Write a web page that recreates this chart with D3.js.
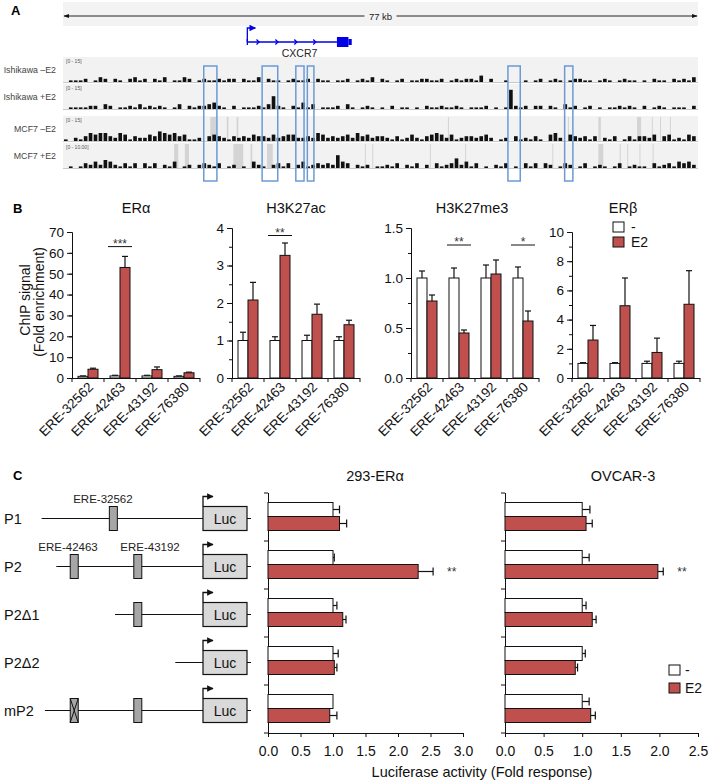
<!DOCTYPE html>
<html><head><meta charset="utf-8">
<script src="https://cdn.jsdelivr.net/npm/d3@7/dist/d3.min.js"></script>
<style>
html,body{margin:0;padding:0;background:#fff;}
svg{display:block;font-family:"Liberation Sans",Arial,Helvetica,sans-serif;}
</style></head><body>
<svg id="fig" width="709" height="782"></svg>
<script>
// ================= DATA =================
// Panel A – genome browser
const genomeSpanKb = 77;
const trackNames = ["Ishikawa \u2013E2", "Ishikawa +E2", "MCF7 \u2013E2", "MCF7 +E2"];
const trackRanges = ["[0 - 15]", "[0 - 15]", "[0 - 15]", "[0 - 10.00]"];
// signal per bin (base-36 digit, units of the track range), 128 bins over 77 kb
const ishikawaMinusE2 = "01112013"+"20210231"+"20213011"+"32012112"+"12202113"+"02110121"+"12021101"+"12012130"+"21012011"+"22112012"+"12214020"+"01000101"+"20121012"+"21101210"+"12110102"+"11021213";
const ishikawaPlusE2  = "01111220"+"32011213"+"12121013"+"02122342"+"10201112"+"13821021"+"41301112"+"03101210"+"10201101"+"02112112"+"10111201"+"01c21202"+"20210312"+"01201011"+"21210201"+"21011102";
const mcf7MinusE2     = "10213545"+"53254132"+"24365453"+"41120343"+"21323243"+"32423442"+"23254232"+"34253423"+"32131242"+"13454241"+"23323420"+"12031213"+"10452043"+"23130213"+"01313324"+"03412143";
const mcf7PlusE2      = "01013242"+"54213130"+"31302140"+"12023213"+"01201042"+"10231302"+"41232328"+"43021201"+"12130213"+"02031236"+"24130102"+"13010313"+"03201320"+"13012101"+"30121103"+"12314342";
// regions without data (kb)
const mcf7MinusGaps = [[17.8,18.5],[19.8,20.0],[21.0,21.2],[46.7,46.8],[61.3,61.4],[65.0,65.3],[69.7,70.2],[71.5,71.6],[72.5,72.6],[73.7,73.8]];
const mcf7PlusGaps  = [[13.4,13.9],[14.7,15.2],[20.6,21.8],[22.7,22.9],[24.7,25.4],[36.6,36.7],[37.5,37.6],[44.5,44.6],[48.8,48.9],[59.4,59.5],[65.0,65.6],[67.6,67.7],[68.5,68.6],[70.0,70.1],[71.6,71.7]];
// highlighted ERE regions (kb)
const ereRegionsKb = [[17.0,18.6],[24.1,26.0],[28.2,29.2],[29.6,30.4],[54.0,55.5],[60.9,61.9]];
// CXCR7 gene model (kb)
const geneName = "CXCR7";
const geneStartKb = 22.3, geneCdsEndKb = 33.2, geneThickEndKb = 34.6, geneEndKb = 35.0;
const geneIntronMarksKb = [23.6, 25.9, 28.2, 30.5];

// Panel B – ChIP
const chipSites = ["ERE-32562", "ERE-42463", "ERE-43192", "ERE-76380"];
const chipTargets = ["ER\u03b1", "H3K27ac", "H3K27me3", "ER\u03b2"];
const chipMax = [70, 4, 1.5, 10];
const chipMajorStep = [10, 1, 0.5, 2];
const chipMinorStep = [10, 0.5, 0.25, 1];
const chipCtrl = [[0.8, 1.0, 1.0, 0.8], [1.0, 1.0, 1.0, 1.0], [1.0, 1.0, 1.0, 1.0], [1.0, 1.0, 1.0, 1.0]];
const chipCtrlErr = [[0.2, 0.3, 0.3, 0.2], [0.22, 0.1, 0.14, 0.1], [0.07, 0.1, 0.13, 0.11], [0.05, 0.05, 0.15, 0.15]];
const chipE2 = [[4.2, 53, 4.0, 2.5], [2.08, 3.27, 1.7, 1.42], [0.77, 0.45, 1.04, 0.57], [2.6, 4.95, 1.75, 5.05]];
const chipE2Err = [[0.5, 5.3, 1.3, 0.3], [0.47, 0.33, 0.27, 0.12], [0.06, 0.03, 0.14, 0.1], [1.0, 1.9, 0.98, 2.3]];
// significance: [chart, site index, label, level]
const chipSig = [[0, 1, "***", 63], [1, 1, "**", 3.8], [2, 1, "**", 1.33], [2, 3, "*", 1.33]];

// Panel C – luciferase
const constructs = ["P1", "P2", "P2\u03941", "P2\u03942", "mP2"];
const constructStart = [1, 10, 46, 83, 3];           // schematic units (TSS = 100)
const constructEREs = [[45], [21, 60], [60], [], [21, 60]];
const constructMutated = [[], [], [], [], [21]];
const ereLabels = [["ERE-32562", 0, 38.6], ["ERE-42463", 1, 17.2], ["ERE-43192", 1, 67.5]];
const lucCells = ["293-ER\u03b1", "OVCAR-3"];
const lucMax = [3.0, 2.5];
const lucCtrl = [[1.0, 1.0, 1.0, 1.0, 1.0], [1.0, 1.0, 1.0, 1.0, 1.0]];
const lucCtrlErr = [[0.1, 0.02, 0.06, 0.08, 0.0], [0.1, 0.09, 0.05, 0.04, 0.09]];
const lucE2 = [[1.1, 2.31, 1.15, 1.02, 0.95], [1.05, 1.98, 1.13, 0.91, 1.11]];
const lucE2Err = [[0.11, 0.23, 0.05, 0.04, 0.11], [0.08, 0.07, 0.05, 0.03, 0.06]];
const lucSig = [[0, 1, "**"], [1, 1, "**"]];
const legendLabels = ["-", "E2"];

// ================= DRAWING =================
const RED = "#c0504d";
const FONT = "Liberation Sans, Arial, sans-serif";
const svg = d3.select("#fig");
const defs = svg.append("defs");
defs.append("marker").attr("id", "arrK").attr("viewBox", "0 0 10 10").attr("refX", 9).attr("refY", 5)
  .attr("markerWidth", 6).attr("markerHeight", 6).attr("orient", "auto-start-reverse")
  .append("path").attr("d", "M0,1.5 L10,5 L0,8.5 Z").attr("fill", "#111");
defs.append("marker").attr("id", "arrB").attr("viewBox", "0 0 10 10").attr("refX", 9).attr("refY", 5)
  .attr("markerWidth", 5).attr("markerHeight", 5).attr("orient", "auto")
  .append("path").attr("d", "M0,0 L10,5 L0,10 Z").attr("fill", "#0000e6");
defs.append("marker").attr("id", "arrC").attr("viewBox", "0 0 10 10").attr("refX", 9).attr("refY", 5)
  .attr("markerWidth", 5).attr("markerHeight", 5).attr("orient", "auto")
  .append("path").attr("d", "M0,0 L10,5 L0,10 Z").attr("fill", "#111");

function letter(t, x, y) {
  svg.append("text").attr("x", x).attr("y", y).attr("font-size", 13).attr("font-weight", "bold").text(t);
}

// ---------- Panel A ----------
letter("A", 11, 15);
const gx = d3.scaleLinear().domain([0, genomeSpanKb]).range([64, 697]);
const gA = svg.append("g");
gA.append("rect").attr("x", 63).attr("y", 2).attr("width", 635).attr("height", 24).attr("fill", "#f3f3f3");
gA.append("line").attr("x1", gx(0)).attr("x2", gx(genomeSpanKb)).attr("y1", 16).attr("y2", 16)
  .attr("stroke", "#222").attr("stroke-width", 1)
  .attr("marker-start", "url(#arrK)").attr("marker-end", "url(#arrK)");
gA.append("rect").attr("x", gx(genomeSpanKb / 2) - 16).attr("y", 10).attr("width", 32).attr("height", 12).attr("fill", "#f3f3f3");
gA.append("text").attr("x", gx(genomeSpanKb / 2)).attr("y", 19.5).attr("text-anchor", "middle")
  .attr("font-size", 9.5).attr("fill", "#222").text(genomeSpanKb + " kb");

// gene model
const gy = 42, blue = "#0000e6";
gA.append("path").attr("d", `M${gx(geneStartKb)},${gy} V${gy - 14} H${gx(geneStartKb) + 8}`)
  .attr("fill", "none").attr("stroke", blue).attr("stroke-width", 1.3).attr("marker-end", "url(#arrB)");
gA.append("line").attr("x1", gx(geneStartKb)).attr("x2", gx(geneCdsEndKb)).attr("y1", gy).attr("y2", gy)
  .attr("stroke", blue).attr("stroke-width", 1.3);
gA.append("line").attr("x1", gx(geneStartKb)).attr("x2", gx(geneStartKb)).attr("y1", gy - 3).attr("y2", gy + 3)
  .attr("stroke", blue).attr("stroke-width", 1.3);
geneIntronMarksKb.forEach(k => {
  gA.append("path").attr("d", `M${gx(k) - 1.5},${gy - 2.5} L${gx(k) + 1},${gy} L${gx(k) - 1.5},${gy + 2.5}`)
    .attr("fill", "none").attr("stroke", blue).attr("stroke-width", 1.3);
});
gA.append("rect").attr("x", gx(geneCdsEndKb)).attr("y", gy - 5).attr("width", gx(geneThickEndKb) - gx(geneCdsEndKb)).attr("height", 10).attr("fill", blue);
gA.append("rect").attr("x", gx(geneThickEndKb)).attr("y", gy - 3).attr("width", gx(geneEndKb) - gx(geneThickEndKb)).attr("height", 6).attr("fill", blue);
gA.append("text").attr("x", gx((geneStartKb + geneEndKb) / 2)).attr("y", 57).attr("text-anchor", "middle")
  .attr("font-size", 10.5).attr("fill", "#222").text(geneName);

// tracks
const trackData = [ishikawaMinusE2, ishikawaPlusE2, mcf7MinusE2, mcf7PlusE2];
const trackGaps = [[], [], mcf7MinusGaps, mcf7PlusGaps];
const trackTop = [57, 84, 116, 143];
const trackH = 26;
const hs = d3.scaleLinear().domain([0, 15]).range([0, 24]);
trackData.forEach((str, t) => {
  const g = gA.append("g");
  const top = trackTop[t], base = top + trackH - 1;
  g.append("rect").attr("x", 63).attr("y", top).attr("width", 635).attr("height", trackH).attr("fill", "#f2f2f2");
  trackGaps[t].forEach(([a, b]) => {
    g.append("rect").attr("x", gx(a)).attr("y", top + 1).attr("width", Math.max(1, gx(b) - gx(a))).attr("height", trackH - 2).attr("fill", "#d4d4d4");
  });
  g.append("line").attr("x1", 63).attr("x2", 698).attr("y1", base + 0.5).attr("y2", base + 0.5).attr("stroke", "#c8c8c8");
  const vals = str.split("").map(c => parseInt(c, 36));
  const bw = genomeSpanKb / vals.length;
  vals.forEach((d, i) => {
    if (d <= 0) return;
    g.append("rect").attr("x", gx(i * bw)).attr("width", Math.max(1, gx((i + 1) * bw) - gx(i * bw) - 1.3))
      .attr("y", base - hs(d)).attr("height", hs(d)).attr("fill", "#111");
  });
  g.append("text").attr("x", 66).attr("y", top + 6).attr("font-size", 5).attr("fill", "#555").text(trackRanges[t]);
  g.append("text").attr("x", 56).attr("y", top + 16).attr("text-anchor", "end").attr("font-size", 8.8)
    .attr("fill", "#444").text(trackNames[t]);
});
ereRegionsKb.forEach(([a, b]) => {
  gA.append("rect").attr("x", gx(a)).attr("y", 66).attr("width", gx(b) - gx(a)).attr("height", 115)
    .attr("fill", "none").attr("stroke", "#6a9bd6").attr("stroke-width", 1.5);
});

// ---------- Panel B ----------
letter("B", 13, 213);
const chipAxisX = [72, 232, 411, 572];
const chipTopY = [232, 228, 228, 232];
const chipTitleX = [136, 296, 472, 623];
const chipBase = 378, bandW = 32, barW = 10;
chipTargets.forEach((name, k) => {
  const g = svg.append("g");
  const x = d3.scaleBand().domain(chipSites).range([chipAxisX[k], chipAxisX[k] + 4 * bandW]);
  const y = d3.scaleLinear().domain([0, chipMax[k]]).range([chipBase, chipTopY[k]]);
  const major = d3.range(0, chipMax[k] + 1e-9, chipMajorStep[k]);
  const minor = d3.range(0, chipMax[k] + 1e-9, chipMinorStep[k]);
  const fmt = chipMax[k] === 1.5 ? d3.format(".1f") : d3.format("d");
  g.append("g").attr("transform", `translate(${chipAxisX[k]},0)`)
    .call(d3.axisLeft(y).tickValues(minor).tickSize(3).tickSizeOuter(0).tickFormat(""))
    .call(a => a.selectAll("path,line").attr("stroke", "#111"));
  g.append("g").attr("transform", `translate(${chipAxisX[k]},0)`)
    .call(d3.axisLeft(y).tickValues(major).tickSize(5).tickPadding(3).tickSizeOuter(0).tickFormat(fmt))
    .call(a => a.selectAll("path,line").attr("stroke", "#111"))
    .call(a => a.selectAll("text").attr("font-size", 13.5).attr("fill", "#111").attr("font-family", FONT));
  // x axis
  g.append("line").attr("x1", chipAxisX[k]).attr("x2", chipAxisX[k] + 4 * bandW).attr("y1", chipBase + 0.5).attr("y2", chipBase + 0.5).attr("stroke", "#111");
  d3.range(5).forEach(j => {
    const xx = chipAxisX[k] + j * bandW;
    g.append("line").attr("x1", xx).attr("x2", xx).attr("y1", chipBase).attr("y2", chipBase + 4).attr("stroke", "#111");
  });
  chipSites.forEach((s, i) => {
    const cx = x(s) + x.bandwidth() / 2;
    const vc = chipCtrl[k][i], ve = chipE2[k][i];
    [[vc, chipCtrlErr[k][i], cx - barW / 2], [ve, chipE2Err[k][i], cx + barW / 2]].forEach(([v, e, ex]) => {
      g.append("line").attr("x1", ex).attr("x2", ex).attr("y1", y(v)).attr("y2", y(v + e)).attr("stroke", "#111").attr("stroke-width", 1.2);
      g.append("line").attr("x1", ex - 3).attr("x2", ex + 3).attr("y1", y(v + e)).attr("y2", y(v + e)).attr("stroke", "#111").attr("stroke-width", 1.2);
    });
    g.append("rect").attr("x", cx - barW).attr("y", y(vc)).attr("width", barW).attr("height", chipBase - y(vc))
      .attr("fill", "#fff").attr("stroke", "#111").attr("stroke-width", 1);
    g.append("rect").attr("x", cx).attr("y", y(ve)).attr("width", barW).attr("height", chipBase - y(ve))
      .attr("fill", RED).attr("stroke", "#111").attr("stroke-width", 1);
    g.append("text").attr("transform", `translate(${cx + 6},${chipBase + 10}) rotate(-45)`)
      .attr("text-anchor", "end").attr("font-size", 13.5).attr("fill", "#111").text(s);
  });
  g.append("text").attr("x", chipTitleX[k]).attr("y", 213).attr("text-anchor", "middle").attr("font-size", 14.5).attr("fill", "#111").text(name);
  chipSig.filter(d => d[0] === k).forEach(([c, si, lab, lvl]) => {
    const cx = x(chipSites[si]) + x.bandwidth() / 2;
    g.append("line").attr("x1", cx - 12).attr("x2", cx + 12).attr("y1", y(lvl)).attr("y2", y(lvl)).attr("stroke", "#111");
    g.append("text").attr("x", cx).attr("y", y(lvl) + 1).attr("text-anchor", "middle").attr("font-size", 12).attr("fill", "#333").text(lab);
  });
});
svg.append("text").attr("transform", "translate(30,300) rotate(-90)").attr("text-anchor", "middle").attr("font-size", 14).attr("fill", "#111").text("ChIP signal");
svg.append("text").attr("transform", "translate(44,302) rotate(-90)").attr("text-anchor", "middle").attr("font-size", 14).attr("fill", "#111").text("(Fold enrichment)");
function legend(x0, y0, gap, tx) {
  legendLabels.forEach((l, i) => {
    svg.append("rect").attr("x", x0).attr("y", y0 + i * gap).attr("width", 11).attr("height", 10)
      .attr("fill", i ? RED : "#fff").attr("stroke", "#111");
    svg.append("text").attr("x", x0 + tx).attr("y", y0 + i * gap + 10).attr("font-size", 14).attr("fill", "#111").text(l);
  });
}
legend(613, 222, 15, 18);

// ---------- Panel C ----------
letter("C", 13, 480);
const cy = d3.scaleBand().domain(constructs).range([493, 733]);
const dsx = d3.scaleLinear().domain([0, 100]).range([40, 203]);
const gC = svg.append("g");
constructs.forEach((c, r) => {
  const yc = cy(c) + cy.bandwidth() / 2 + 1.5;
  gC.append("text").attr("x", 4).attr("y", yc + 5).attr("font-size", 14.5).attr("fill", "#111").text(c);
  gC.append("line").attr("x1", dsx(constructStart[r])).attr("x2", dsx(100) + 48).attr("y1", yc).attr("y2", yc).attr("stroke", "#111").attr("stroke-width", 1.2);
  constructEREs[r].forEach(p => {
    gC.append("rect").attr("x", dsx(p) - 4).attr("y", yc - 12).attr("width", 8).attr("height", 24).attr("fill", "#a6a6a6").attr("stroke", "#111");
    if (constructMutated[r].includes(p)) {
      gC.append("path").attr("d", `M${dsx(p) - 4},${yc - 12} L${dsx(p) + 4},${yc + 12} M${dsx(p) + 4},${yc - 12} L${dsx(p) - 4},${yc + 12}`).attr("stroke", "#111");
    }
  });
  gC.append("rect").attr("x", dsx(100)).attr("y", yc - 12).attr("width", 44).attr("height", 24).attr("fill", "#d9d9d9").attr("stroke", "#111").attr("stroke-width", 1.2);
  gC.append("text").attr("x", dsx(100) + 22).attr("y", yc + 5).attr("text-anchor", "middle").attr("font-size", 14).attr("fill", "#111").text("Luc");
  gC.append("path").attr("d", `M${dsx(100)},${yc - 12} V${yc - 22} H${dsx(100) + 10}`).attr("fill", "none").attr("stroke", "#111").attr("stroke-width", 1.3).attr("marker-end", "url(#arrC)");
});
ereLabels.forEach(([n, r, p]) => {
  const yc = cy(constructs[r]) + cy.bandwidth() / 2 + 1.5;
  gC.append("text").attr("x", dsx(p)).attr("y", yc - 16).attr("text-anchor", "middle").attr("font-size", 11.5).attr("fill", "#222").text(n);
});

const lucAxisX = [268, 505], lucAxisEnd = [463, 698], lucTitleX = [375, 623];
lucCells.forEach((cell, k) => {
  const g = svg.append("g");
  const x = d3.scaleLinear().domain([0, lucMax[k]]).range([lucAxisX[k], lucAxisEnd[k]]);
  g.append("g").attr("transform", "translate(0,733)")
    .call(d3.axisBottom(x).tickValues(d3.range(0, lucMax[k] + 1e-9, 0.5)).tickSize(4).tickPadding(9).tickSizeOuter(0).tickFormat(d3.format(".1f")))
    .call(a => a.selectAll("path,line").attr("stroke", "#111"))
    .call(a => a.selectAll("text").attr("font-size", 14).attr("fill", "#111").attr("font-family", FONT));
  g.append("line").attr("x1", lucAxisX[k] + 0.5).attr("x2", lucAxisX[k] + 0.5).attr("y1", 493).attr("y2", 733).attr("stroke", "#111");
  d3.range(6).forEach(j => {
    const yy = 493 + j * cy.bandwidth();
    g.append("line").attr("x1", lucAxisX[k] - 4).attr("x2", lucAxisX[k]).attr("y1", yy).attr("y2", yy).attr("stroke", "#111");
  });
  constructs.forEach((c, i) => {
    const b = cy(c);
    [[lucCtrl[k][i], lucCtrlErr[k][i], b + 9.5, "#fff"], [lucE2[k][i], lucE2Err[k][i], b + 23.5, RED]].forEach(([v, e, yy, fill]) => {
      if (e > 0) {
        g.append("line").attr("x1", x(v)).attr("x2", x(v + e)).attr("y1", yy + 7).attr("y2", yy + 7).attr("stroke", "#111").attr("stroke-width", 1.2);
        g.append("line").attr("x1", x(v + e)).attr("x2", x(v + e)).attr("y1", yy + 3).attr("y2", yy + 11).attr("stroke", "#111").attr("stroke-width", 1.2);
      }
      g.append("rect").attr("x", x(0)).attr("y", yy).attr("width", x(v) - x(0)).attr("height", 14).attr("fill", fill).attr("stroke", "#111");
    });
  });
  lucSig.filter(d => d[0] === k).forEach(([kk, i, lab]) => {
    const b = cy(constructs[i]);
    g.append("text").attr("x", x(lucE2[k][i] + lucE2Err[k][i]) + 14).attr("y", b + 35).attr("font-size", 12).attr("fill", "#333").text(lab);
  });
  g.append("text").attr("x", lucTitleX[k]).attr("y", 481).attr("text-anchor", "middle").attr("font-size", 14.5).attr("fill", "#111").text(cell);
});
svg.append("text").attr("x", 482).attr("y", 777).attr("text-anchor", "middle").attr("font-size", 14.5).attr("fill", "#111").text("Luciferase activity (Fold response)");
legend(669, 665, 18, 16);
</script>
</body></html>
